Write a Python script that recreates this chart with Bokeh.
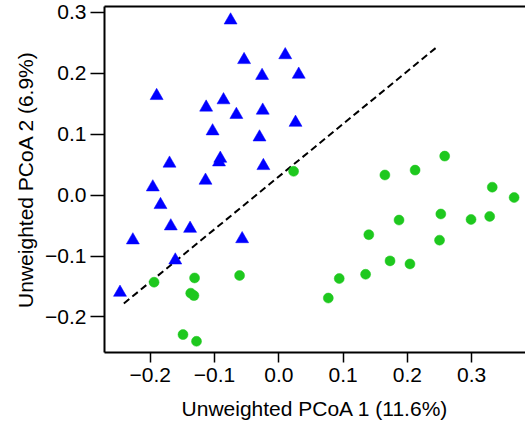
from bokeh.plotting import figure
from bokeh.models import LinearAxis, FixedTicker, CustomJSTickFormatter, Range1d
from bokeh.embed import file_html
from bokeh.resources import INLINE

# Group A (blue triangles)
tri_x = [-0.075, -0.054, 0.010, -0.026, 0.031, -0.190, -0.113, -0.086, -0.066, -0.025,
         -0.103, 0.026, -0.030, -0.170, -0.091, -0.093, -0.024, -0.114, -0.196, -0.184,
         -0.168, -0.138, -0.227, -0.057, -0.161, -0.247]
tri_y = [0.287, 0.222, 0.230, 0.196, 0.198, 0.163, 0.144, 0.156, 0.132, 0.139,
         0.105, 0.119, 0.095, 0.052, 0.060, 0.054, 0.048, 0.024, 0.013, -0.016,
         -0.051, -0.055, -0.074, -0.072, -0.107, -0.160]

# Group B (green circles)
circ_x = [0.023, -0.194, -0.131, -0.137, -0.132, -0.061, -0.149, -0.128, 0.258, 0.212,
          0.165, 0.332, 0.366, 0.252, 0.299, 0.328, 0.187, 0.140, 0.250, 0.173,
          0.204, 0.135, 0.094, 0.077]
circ_y = [0.039, -0.143, -0.136, -0.161, -0.165, -0.132, -0.229, -0.240, 0.064, 0.041,
          0.033, 0.013, -0.004, -0.031, -0.040, -0.035, -0.041, -0.065, -0.074, -0.108,
          -0.113, -0.130, -0.137, -0.169]

# Separating dashed line
line_x = [-0.241, 0.247]
line_y = [-0.178, 0.244]

x_ticks = [-0.2, -0.1, 0.0, 0.1, 0.2, 0.3]
y_ticks = [-0.2, -0.1, 0.0, 0.1, 0.2, 0.3]

FONT = "Liberation Sans"

p = figure(width=525, height=422, output_backend="svg", toolbar_location=None,
           x_range=Range1d(-0.2711, 0.3837), y_range=Range1d(-0.2584, 0.3096),
           min_border_left=104, min_border_right=0, min_border_top=6, min_border_bottom=0)
p.outline_line_color = None
p.grid.visible = False
p.background_fill_color = "white"

fmt = CustomJSTickFormatter(code="return (tick < -1e-9 ? '\u2212' : '') + Math.abs(tick).toFixed(1);")

for ax, ticks in ((p.xaxis[0], x_ticks), (p.yaxis[0], y_ticks)):
    ax.ticker = FixedTicker(ticks=ticks)
    ax.formatter = fmt
    ax.axis_line_width = 2
    ax.axis_line_color = "black"
    ax.major_tick_line_width = 1.5
    ax.major_tick_line_color = "black"
    ax.major_tick_in = 0
    ax.minor_tick_line_color = None
    ax.major_label_text_font = FONT
    ax.major_label_text_font_size = "21px"
    ax.major_label_text_color = "black"
    ax.axis_label_text_font = FONT
    ax.axis_label_text_font_size = "21px"
    ax.axis_label_text_font_style = "normal"
    ax.axis_label_text_color = "black"

p.xaxis[0].axis_label = "Unweighted PCoA 1 (11.6%)"
p.xaxis[0].major_tick_out = 10
p.xaxis[0].major_label_standoff = 5
p.xaxis[0].axis_label_standoff = 12
p.yaxis[0].axis_label = "Unweighted PCoA 2 (6.9%)"
p.yaxis[0].major_tick_out = 14
p.yaxis[0].major_label_standoff = 4
p.yaxis[0].axis_label_standoff = 5

top = LinearAxis(ticker=FixedTicker(ticks=[]), axis_line_width=2, axis_line_color="black",
                 major_tick_out=0, major_tick_in=0, minor_tick_line_color=None,
                 major_label_text_font_size="0px", major_label_standoff=0)
p.add_layout(top, "above")

p.line(line_x, line_y, line_color="black", line_width=2, line_dash="7 4")
p.scatter(tri_x, tri_y, marker="triangle", size=13, fill_color="#0000FF", line_color="#0000FF", line_width=0.5)
p.scatter(circ_x, circ_y, marker="circle", size=10, fill_color="#1EC81E", line_color="#1EC81E", line_width=0.5)

open("out.html", "w").write(file_html(p, INLINE))
